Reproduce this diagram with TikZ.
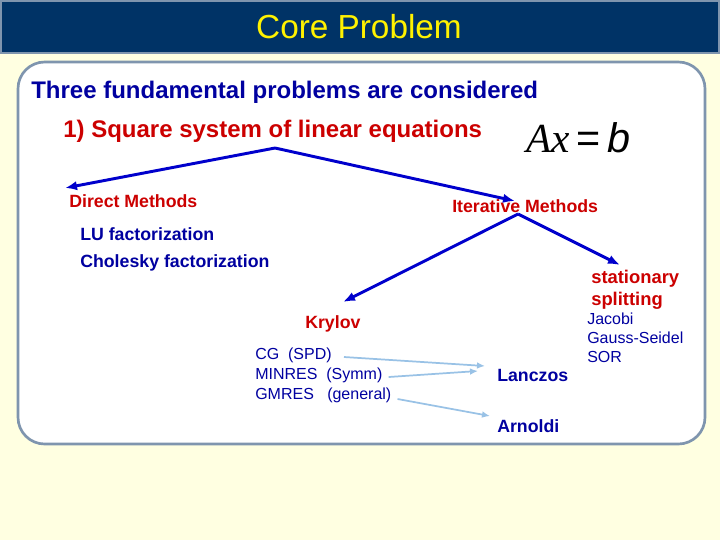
\documentclass[tikz,border=0pt]{standalone}
\usepackage{fontspec}
\setmainfont{Liberation Sans}
\newfontfamily\serifx{Liberation Serif}
\usetikzlibrary{arrows.meta}
\definecolor{bgy}{HTML}{FFFFE1}
\definecolor{navy}{HTML}{003366}
\definecolor{tblue}{HTML}{0000A0}
\definecolor{tred}{HTML}{CC0000}
\definecolor{lblue}{HTML}{99C2E6}
\definecolor{frame}{HTML}{7F95AE}
\begin{document}
\begin{tikzpicture}[x=0.75pt,y=-0.75pt,
  lab/.style={anchor=west,inner sep=0pt,font=\bfseries\fontsize{13.3}{15}\selectfont},
  small/.style={anchor=west,inner sep=0pt,text=tblue,font=\fontsize{12}{14}\selectfont},
  big/.style={-{Latex[length=9pt,width=7pt]},line width=2.2pt,draw=blue!80!black},
  thin/.style={-{Latex[length=6pt,width=5pt]},line width=1.3pt,draw=lblue}]
\fill[bgy] (0,0) rectangle (720,540);
\useasboundingbox (0,0) rectangle (720,540);
\fill[navy,draw=frame,line width=1.5pt] (1,1) rectangle (719,53);
\node[text=yellow,font=\fontsize{25}{28}\selectfont] (title) at (359,27) {Core Problem};
\draw[frame,fill=white,line width=2pt,rounded corners=20] (18,62) rectangle (705,444);
\node[anchor=west,inner sep=0pt,text=tblue,font=\bfseries\fontsize{18}{20}\selectfont] (three) at (31,92) {Three fundamental problems are considered};
\node[anchor=west,inner sep=0pt,text=tred,font=\bfseries\fontsize{18}{20}\selectfont] (sq) at (63,131) {1) Square system of linear equations};
\node[anchor=west,inner sep=0pt,font=\serifx\fontsize{31}{34}\selectfont] (axb) at (526,138) {\itshape Ax\,\normalfont=\,\itshape b};
\coordinate (apex) at (275,148);
\node[lab,text=tred] (dm) at (69,201) {Direct Methods};
\node[lab,text=tred] (im) at (452,206) {Iterative Methods};
\node[lab,text=tblue] (lu) at (80,234) {LU factorization};
\node[lab,text=tblue] (ch) at (80,263) {Cholesky factorization};
\draw[big] (apex) -- (65,188);
\draw[big] (apex) -- (515,201);
\coordinate (apex2) at (518,214);
\draw[big] (apex2) -- (343,302);
\draw[big] (apex2) -- (620,265);
\node[lab,text=tred,font=\bfseries\fontsize{13.8}{16}\selectfont] (st1) at (591,279) {stationary};
\node[lab,text=tred,font=\bfseries\fontsize{13.8}{16}\selectfont] (st2) at (591,301) {splitting};
\node[small] (j1) at (587,319) {Jacobi};
\node[small] (j2) at (587,338) {Gauss-Seidel};
\node[small] (j3) at (587,357) {SOR};
\node[lab,text=tred] (kr) at (305,324) {Krylov};
\node[small] (cg) at (255,355) {CG~~(SPD)};
\node[small] (mr) at (255,375) {MINRES~~(Symm)};
\node[small] (gm) at (255,395) {GMRES~~~(general)};
\node[lab,text=tblue] (lan) at (497,375) {Lanczos};
\node[lab,text=tblue] (arn) at (497,426) {Arnoldi};
\draw[thin] (cg.east)++(12,2) -- (485,366);
\draw[thin] (mr.east)++(6,2) -- (478,371);
\draw[thin] (gm.east)++(6,4) -- (490,416);
\end{tikzpicture}
\end{document}
